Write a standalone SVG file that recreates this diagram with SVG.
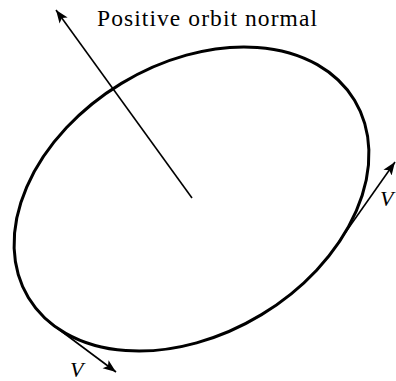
<svg xmlns="http://www.w3.org/2000/svg" width="396" height="381" viewBox="0 0 396 381">
<style>
.orbit{fill:none;stroke:#000;stroke-width:3}
.vec{fill:none;stroke:#000;stroke-width:1.6}
.lbl{font-family:"Liberation Serif","Times New Roman",serif;fill:#000}
.it{font-style:italic}
</style>
<defs>
<marker id="ah" markerUnits="userSpaceOnUse" markerWidth="14" markerHeight="12" viewBox="0 0 14 12" refX="13" refY="6" orient="auto">
<path d="M0,1 L13,6 L0,11 L3,6 Z" fill="#000"/>
</marker>
</defs>
<g id="orbit">
<ellipse class="orbit" cx="191.5" cy="199" rx="190.6" ry="135.2" transform="rotate(-31.2 191.5 199)"/>
</g>
<g id="connectors">
<line class="vec" x1="192" y1="198" x2="56" y2="10" marker-end="url(#ah)"/>
<line class="vec" x1="49" y1="322" x2="116" y2="372" marker-end="url(#ah)"/>
<line class="vec" x1="338" y1="243" x2="395" y2="162" marker-end="url(#ah)"/>
</g>
<g id="label-normal">
<text class="lbl" x="97" y="26" font-size="23.5" textLength="220" lengthAdjust="spacing">Positive orbit normal</text>
</g>
<g id="label-v-bottom">
<text class="lbl it" x="70" y="377" font-size="22">V</text>
</g>
<g id="label-v-right">
<text class="lbl it" x="380" y="206" font-size="22">V</text>
</g>
</svg>
